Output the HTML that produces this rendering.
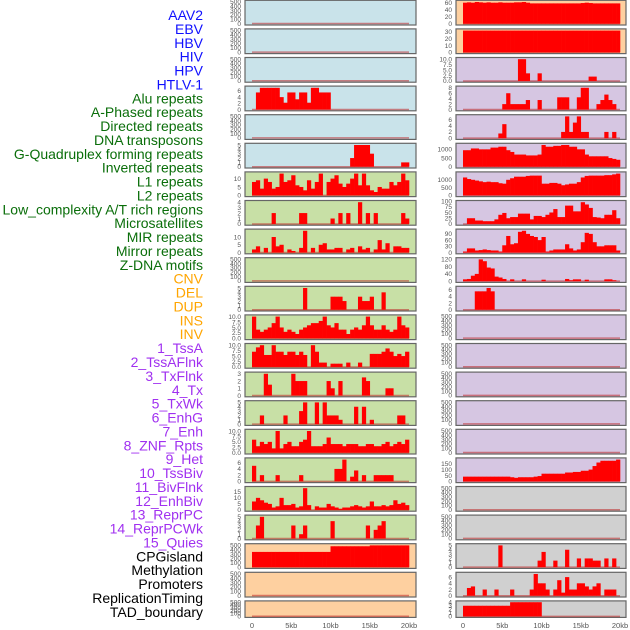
<!DOCTYPE html>
<html><head><meta charset="utf-8"><style>
body{margin:0;background:#fff;width:630px;height:630px;overflow:hidden;font-family:"Liberation Sans",sans-serif}
svg{position:absolute;left:0;top:0}
</style></head><body>
<svg id="chart" width="630" height="630"></svg>
<script>
const labelNames=["AAV2","EBV","HBV","HIV","HPV","HTLV-1","Alu repeats","A-Phased repeats","Directed repeats","DNA transposons","G-Quadruplex forming repeats","Inverted repeats","L1 repeats","L2 repeats","Low_complexity A/T rich regions","Microsatellites","MIR repeats","Mirror repeats","Z-DNA motifs","CNV","DEL","DUP","INS","INV","1_TssA","2_TssAFlnk","3_TxFlnk","4_Tx","5_TxWk","6_EnhG","7_Enh","8_ZNF_Rpts","9_Het","10_TssBiv","11_BivFlnk","12_EnhBiv","13_ReprPC","14_ReprPCWk","15_Quies","CPGisland","Methylation","Promoters","ReplicationTiming","TAD_boundary"];
const labelGroups=[0,0,0,0,0,0,1,1,1,1,1,1,1,1,1,1,1,1,1,2,2,2,2,2,3,3,3,3,3,3,3,3,3,3,3,3,3,3,3,4,4,4,4,4];
const xTickLabels=["0","5kb","10kb","15kb","20kb"];
const xTickValues=[0,5,10,15,20];
const Z20=[0,0,0,0,0,0,0,0,0,0,0,0,0,0,0,0,0,0,0,0];
const emptyTrack=[];
const leftHIV=[0,5.5,7,7,7,7,7,4,2.2,5.5,5.5,3.3,5.5,5.5,2.2,7,7,5.5,5.5,5.5].concat(Z20);
const leftHTLV=[0,0,0,0,0,0,0,0,0,0,0,0,0,0,0,0,0,0,0,0,0,0,0,0,0,2,5,5,5,5,3,0,0,0,0,0,0,0,1,1];
const leftAlu=[8,9,4,10,8,4,5,13,8,9,12,6,5,3,9,4,8,13,0,8,10,12,7,5,7,10,13,6,13,6,3,2,5,4,4,8,6,8,13,9];
const leftAPhased=[0,0,0,0,0,2,0,0,0,0,0,0,2,2,0,0,0,0,0,0,1,0,2,0,2,0,0,4,0,2,0,2,0,0,0,0,0,0,2,1];
const leftDirected=[2,4,0,3,0,10,4,5,0,2,1,0,3,14,0,3,0,5,6,2,2,3,3,0,2,3,0,4,2,3,0,2,8,2,6,0,4,4,3,3];
const leftGQuad=[0,0,0,0,0,0,0,0,0,0,0,0,0,5,0,0,0,0,0,0,3,3,3,2,0,0,0,3,2,2,3,0,0,4,0,0,0,0,0,0];
const leftInverted=[10,4,3,4,5,7,10,5,3,4,3,2,4,5,6,7,7,8,10,6,5,7,4,4,2,4,5,4,6,10,6,4,4,6,4,3,4,10,6,5];
const leftL1=[7,9,10,5.5,5.5,10,7,7,5.5,7,7,5.5,7,5.5,0,10,7,2,2,0,1.5,1.5,1.5,0,2,0,0,2,0,0,6,6,6,7,8.5,7,5,6,5,7];
const leftL2=[0,0,0,3,1.5,0,0,0,0,0,3,2,2,2,0,0,0,0,0,2,1,0,2,0,0,0,0,0,2.5,2,0,0,0,0,1,1,0,0,0,0];
const leftLowComplex=[0,0,2,0,0,0,0,0,2,0,0,0,3,5,0,0,5,0,5,2,2,2,1,0,0,0,4,0,4,0,1,0,0,0,0,0,0,2,2,0];
const leftMicrosat=[6,3,5,4,5,2,10,2,4,5,3,3,5,6,10,3,3,3,4,7,4,4,4,3,4,4,4,3,3,4,4,3,3,4,5,3,4,5,4,6];
const leftMIR=[5,0,2,0,0,0,2,0,0,0,0,0,2,0,0,0,0,0,0,0,0,4,4,7,0,1.5,3.5,0,2,0,0,2,2,2,2,2,0,0,0,0];
const leftMirror=[7,10,8,6,5,2,3,10,4,4,5,2,3,18,4,0,3,2,2,5,3,2,1,2,2,3,4,3,2,3,7,3,3,4,3,4,8,5,6,4];
const leftZDNA=[0,3,5,0,0,0,0,0,0,0,3,0,1,3,0,0,0,0,0,0,4,0,0,0,0,0,0,0,0,3,0,2,3,4,0,0,0,0,0,0];
const leftCPG=[350,350,350,350,350,350,350,350,350,350,350,350,350,350,350,350,350,350,350,350,480,480,480,480,480,480,480,480,480,480,500,500,500,500,500,500,500,500,500,500];
const rightA=[60,61,60,62,61,60,61,60,60,61,60,60,60,61,61,62,60,58,58,58,58,58,58,58,58,58,58,58,58,58,59,60,59,58,58,58,58,58,58,58];
const rightB=[32,32,32,32,32,32,32,32,32,32,32,32,32,32,32,32,32,32,32,32,32,32,32,32,32,32,32,32,32,32,32,32,32,32,32,32,32,32,32,32];
const rightC=[0,0,0,0,0,0,0,0,0,0,0,0,0,0,10,10,3.5,0,0,3.5,0,0,0,0,0,0,0,0,0,0,0,0,2,2,0,0,0,0,0,0];
const rightD=[0,0,0,0,0,0,0,0,0,0,2,6,2,2,2,2,3.5,0,0,3.5,0,0,0,0,4.5,4.5,4.5,0,0,4.5,8,8,0,0,2,3.5,5.5,3.5,2,0];
const rightE=[0,0,0,0,0,0,0,0,0,1.5,4.5,0,0,0,0,0,0,0,0,0,0,0,0,0,0,2,7,2,5,7,2,2,0,0,0,0,2,0,2,0];
const rightF=[950,950,1050,1050,1000,1000,1000,1100,1100,1150,1150,950,850,700,700,700,650,650,650,700,1250,1150,1150,1200,1200,1250,1250,1150,1150,1000,1000,700,600,600,600,600,600,500,450,400];
const rightG=[1150,1050,1000,950,900,850,880,850,850,780,750,1000,1100,1200,1200,1200,1250,1270,1270,1270,750,750,800,800,750,650,700,750,750,850,1150,1250,1270,1270,1270,1270,1300,1300,1350,1400];
const rightH=[0,25,25,15,15,12,12,12,20,40,48,25,30,30,45,45,45,20,35,35,30,40,50,65,30,30,80,80,55,55,95,85,70,30,28,25,40,40,60,25];
const rightI=[5,20,20,10,12,15,12,10,10,5,35,80,40,45,100,105,90,80,75,60,75,5,10,15,15,15,40,20,10,15,50,95,90,50,30,30,35,35,35,10];
const rightJ=[10,12,30,40,120,110,75,70,25,20,12,0,10,0,0,10,0,0,0,0,8,0,0,0,0,0,12,5,10,10,0,8,0,0,0,0,10,10,5,0];
const rightK=[0,0,0,5.5,5.5,5.5,6.5,5.5,0,0].concat(Z20,[0,0,0,0,0,0,0,0,0,0]);
const rightL=[40,40,40,40,40,40,40,40,40,40,40,40,35,30,35,35,35,35,40,45,65,65,65,65,65,65,75,75,80,80,90,90,100,130,160,175,175,175,175,185];
const rightM=[0,0,0,0,0,0,0,0,0,5,0,0,0,0,0,0,0,0,0,1.5,3.5,0,0,1.5,0,0,4,0,0,2,0,2,2,1.5,1.5,0,2,0,2,0];
const rightN=[0,2.5,3,0,0,2,0,0,2,0,0,0,2,0,0,0,0,2,7,4,4,2,0,2,5,1,6,2,2,4,4,3,2,3,4,0,2,2,2,0];
const rightO=[3,3,3,3,3,3,3,3,3,3,3,3,4,4,4,4,4,4,4,4].concat(Z20);

const leftTracks=[emptyTrack,emptyTrack,emptyTrack,leftHIV,emptyTrack,leftHTLV,leftAlu,leftAPhased,leftDirected,emptyTrack,leftGQuad,leftInverted,leftL1,leftL2,leftLowComplex,leftMicrosat,leftMIR,leftMirror,leftZDNA,leftCPG,emptyTrack,emptyTrack];
const rightTracks=[rightA,rightB,rightC,rightD,rightE,rightF,rightG,rightH,rightI,rightJ,rightK,emptyTrack,emptyTrack,emptyTrack,emptyTrack,emptyTrack,rightL,emptyTrack,emptyTrack,rightM,rightN,rightO];
const T500=[0,100,200,300,400,500];
const leftTicks=[T500,T500,T500,[0,2,4,6],T500,[0,1,2,3,4,5],[0,5,10],[0,1,2,3,4],[0,5,10],T500,[0,1,2,3,4,5],[0,2.5,5,7.5,10],[0,2.5,5,7.5,10],[0,1,2,3],[0,1,2,3,4,5],[0,2.5,5,7.5,10],[0,2,4,6],[0,5,10,15],[0,1,2,3,4,5],T500,T500,T500];
const rightTicks=[[0,20,40,60],[0,10,20,30],[0,2.5,5,7.5,10],[0,2,4,6,8],[0,2,4,6],[0,500,1000],[0,500,1000],[0,25,50,75,100],[0,30,60,90],[0,40,80,120],[0,2,4,6],T500,T500,T500,T500,T500,[0,50,100,150],T500,T500,[0,1,2,3,4,5],[0,2,4,6],[0,1,2,3,4]];

const svg=document.getElementById('chart');
const NS='http://www.w3.org/2000/svg';
function mk(tag,attrs,parent){const e=document.createElementNS(NS,tag);for(const k in attrs)e.setAttribute(k,attrs[k]);(parent||svg).appendChild(e);return e;}
const groupColors=['#1010ff','#0a6e0a','#ffa500','#a030f0','#000000'];
labelNames.forEach((n,i)=>{
  const t=mk('text',{x:203,y:20+i*13.88,'text-anchor':'end','font-size':'14',fill:groupColors[labelGroups[i]]});
  t.textContent=n;
  
  
});
const leftBg=['#c9e3ea','#c9e3ea','#c9e3ea','#c9e3ea','#c9e3ea','#c9e3ea','#c8e0a6','#c8e0a6','#c8e0a6','#c8e0a6','#c8e0a6','#c8e0a6','#c8e0a6','#c8e0a6','#c8e0a6','#c8e0a6','#c8e0a6','#c8e0a6','#c8e0a6','#fed0a0','#fed0a0','#fed0a0'];
const rightBg=['#fed0a0','#fed0a0','#d6c6e2','#d6c6e2','#d6c6e2','#d6c6e2','#d6c6e2','#d6c6e2','#d6c6e2','#d6c6e2','#d6c6e2','#d6c6e2','#d6c6e2','#d6c6e2','#d6c6e2','#d6c6e2','#d6c6e2','#d0d0d0','#d0d0d0','#d0d0d0','#d0d0d0','#d0d0d0'];
function panel(col,i,vals,ticks,bg){
  const X0=col?456:245, W=col?170:171;
  const T=0.3+i*28.6, H=i===21?16.5:24.7;
  const g=mk('g',{});
  
  
  mk('rect',{x:X0,y:T,width:W,height:H,fill:bg,stroke:'#666',"stroke-width":1.2},g);
  const dmax=vals.length?Math.max(...vals):0;
  const ymax=dmax>0?dmax*1.05:520, ymin=dmax>0?-dmax*0.03:-20;
  const xs=kb=>X0+7+kb*(157/20);
  const ys=v=>T+H-0.6-(v-ymin)/(ymax-ymin)*(H-1.2);
  const dec=ticks.some(tv=>tv%1!==0);
  ticks.forEach(tv=>{
    const t=mk('text',{x:X0-4,y:ys(tv)+2.3,'text-anchor':'end','font-size':'6.5',fill:'#555'},g);
    t.textContent=dec?tv.toFixed(1):String(tv);
    
    
  });
  const bl=mk('line',{x1:xs(0),x2:xs(20),y1:ys(0),y2:ys(0),stroke:'rgba(190,40,40,0.55)','stroke-width':1.5},g);
  
  
  vals.forEach((v,b)=>{
    if(v<=0)return;
    const r=mk('rect',{x:xs(b*0.5),y:ys(v),width:xs(0.5)-xs(0)+0.3,height:ys(0)-ys(v),fill:'#ff0000'},g);
    
    
  });
  if(i===21){
    xTickValues.forEach((kv,k)=>{
      const t=mk('text',{x:xs(kv),y:628,'text-anchor':'middle','font-size':'7.5',fill:'#555'});
      t.textContent=xTickLabels[k];
      
      
    });
  }
}
leftTracks.forEach((v,i)=>panel(0,i,v,leftTicks[i],leftBg[i]));
rightTracks.forEach((v,i)=>panel(1,i,v,rightTicks[i],rightBg[i]));
</script>
</body></html>
